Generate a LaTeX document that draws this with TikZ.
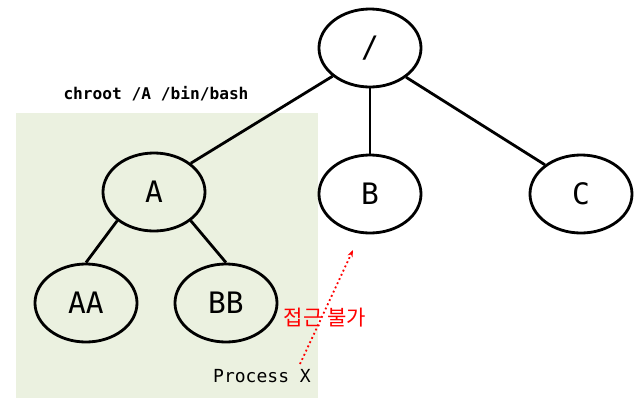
\documentclass[tikz,border=0pt]{standalone}
\usepackage{fontspec}
\setmonofont{DejaVu Sans Mono}
\newfontfamily\krfont{Noto Sans CJK KR}
\usetikzlibrary{shapes.geometric,arrows.meta}
\definecolor{jailgreen}{HTML}{EBF1E0}

\tikzset{
    dirnode/.style={ellipse, draw, line width=2pt, minimum width=2.55cm,
        minimum height=1.95cm, inner sep=0pt, font=\ttfamily\fontsize{21}{24}\selectfont},
    dirline/.style={line width=2pt}
}

\begin{document}
\begin{tikzpicture}[x=0.025cm, y=-0.025cm]
        \useasboundingbox (0, 0) rectangle (640, 403);
        \fill[jailgreen] (16, 113) rectangle (318, 398);

        \node[dirnode] (root) at (370, 48) {/};
        \node[dirnode] (a) at (154, 192) {A};
        \node[dirnode] (b) at (370, 194) {B};
        \node[dirnode] (c) at (581, 194) {C};
        \node[dirnode] (aa) at (86, 303) {AA};
        \node[dirnode] (bb) at (226, 303) {BB};

        \draw[dirline] (root.-143) -- (a.38);
        \draw[dirline] (root) -- (b);
        \draw[dirline] (root.-39) -- (c.141);
        \draw[dirline] (a.-142) -- (aa.north);
        \draw[dirline] (a.-38) -- (bb.north);

        \node[font=\ttfamily\bfseries\fontsize{11.5}{13}\selectfont] (cmd) at (156, 94) {chroot /A /bin/bash};
        \node[font=\ttfamily\fontsize{12.8}{14}\selectfont] (proc) at (262, 376) {Process X};
        \node[text=red, font=\krfont\fontsize{15}{17}\selectfont] (deny) at (325, 318) {접근 불가};

        \coordinate (from) at (300, 364);
        \coordinate (to) at (353, 250);
        \draw[red, dotted, line width=1.3pt, -{Stealth[length=5pt]}] (from) -- (to);
    \end{tikzpicture}
\end{document}
